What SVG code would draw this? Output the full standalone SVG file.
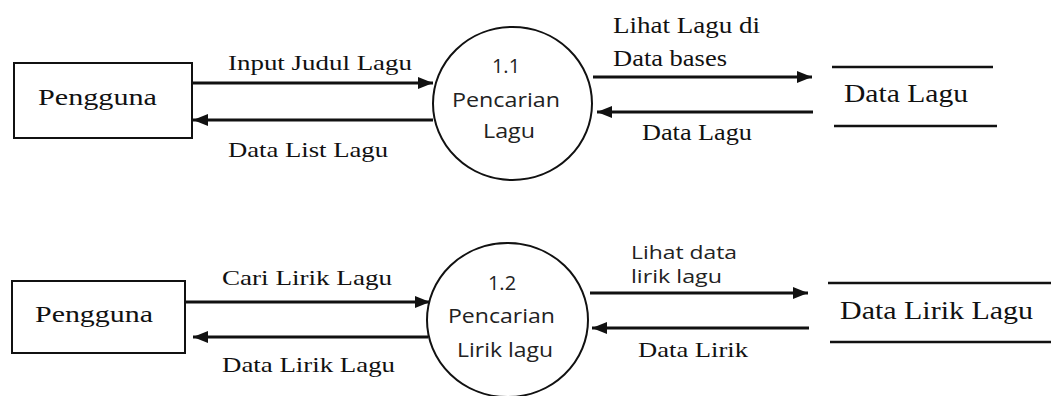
<svg xmlns="http://www.w3.org/2000/svg" width="1051" height="396" viewBox="0 0 1051 396">
<style>
.serif{font-family:"Liberation Serif","Times New Roman",serif;fill:#111}
.sans{font-family:"Open Sans","Noto Sans",sans-serif;fill:#222}
.box{fill:#fff;stroke:#111;stroke-width:2}
.proc{fill:#fff;stroke:#111;stroke-width:2}
.store{stroke:#111;stroke-width:2.5;fill:none}
.flow{stroke:#111;stroke-width:3;fill:none;marker-end:url(#ah)}
</style>
<defs>
<marker id="ah" markerUnits="userSpaceOnUse" markerWidth="16" markerHeight="12" refX="15" refY="6" orient="auto">
<path d="M0,0 L15,6 L0,12 z" fill="#111"/>
</marker>
</defs>
<rect width="1051" height="396" fill="#fff"/>

<g id="connectors">
<path class="flow" d="M192,83 L433,83"/>
<path class="flow" d="M433,120 L193,120"/>
<path class="flow" d="M593,77 L812,77"/>
<path class="flow" d="M813,112 L597,112"/>
<path class="flow" d="M185,302 L430,302"/>
<path class="flow" d="M428,337 L193,337"/>
<path class="flow" d="M590,293 L808,293"/>
<path class="flow" d="M809,328 L592,328"/>
<text class="serif" x="228" y="70" font-size="22" textLength="184" lengthAdjust="spacingAndGlyphs">Input Judul Lagu</text>
<text class="serif" x="228" y="157" font-size="22" textLength="160" lengthAdjust="spacingAndGlyphs">Data List Lagu</text>
<text class="serif" x="613" y="33" font-size="23" textLength="147" lengthAdjust="spacingAndGlyphs">Lihat Lagu di</text>
<text class="serif" x="613" y="66" font-size="23" textLength="114" lengthAdjust="spacingAndGlyphs">Data bases</text>
<text class="serif" x="642" y="140" font-size="23" textLength="110" lengthAdjust="spacingAndGlyphs">Data Lagu</text>
<text class="serif" x="222" y="285" font-size="22" textLength="170" lengthAdjust="spacingAndGlyphs">Cari Lirik Lagu</text>
<text class="serif" x="222" y="372" font-size="22" textLength="173" lengthAdjust="spacingAndGlyphs">Data Lirik Lagu</text>
<text class="sans" x="631" y="259" font-size="18" textLength="106" lengthAdjust="spacingAndGlyphs">Lihat data</text>
<text class="sans" x="631" y="283" font-size="18" textLength="91" lengthAdjust="spacingAndGlyphs">lirik lagu</text>
<text class="serif" x="638" y="357" font-size="22" textLength="110" lengthAdjust="spacingAndGlyphs">Data Lirik</text>
</g>

<g id="pengguna1">
<rect class="box" x="14" y="63" width="178" height="75"/>
<text class="serif" x="38" y="105" font-size="23" textLength="119" lengthAdjust="spacingAndGlyphs">Pengguna</text>
</g>

<g id="proses11">
<ellipse class="proc" cx="512.5" cy="103.5" rx="79.5" ry="76.5"/>
<text class="sans" x="506" y="73" font-size="20" text-anchor="middle">1.1</text>
<text class="sans" x="452" y="107" font-size="20" textLength="108" lengthAdjust="spacingAndGlyphs">Pencarian</text>
<text class="sans" x="483" y="138" font-size="20" textLength="52" lengthAdjust="spacingAndGlyphs">Lagu</text>
</g>

<g id="datalagu">
<line class="store" x1="832" y1="67" x2="993" y2="67"/>
<line class="store" x1="834" y1="126" x2="997" y2="126"/>
<text class="serif" x="844" y="102" font-size="26" textLength="124" lengthAdjust="spacingAndGlyphs">Data Lagu</text>
</g>

<g id="pengguna2">
<rect class="box" x="12" y="281" width="173" height="72"/>
<text class="serif" x="35" y="322" font-size="23" textLength="118" lengthAdjust="spacingAndGlyphs">Pengguna</text>
</g>

<g id="proses12">
<ellipse class="proc" cx="507.5" cy="320" rx="80.5" ry="77"/>
<text class="sans" x="502" y="290" font-size="20" text-anchor="middle">1.2</text>
<text class="sans" x="448" y="323" font-size="20" textLength="107" lengthAdjust="spacingAndGlyphs">Pencarian</text>
<text class="sans" x="457" y="357" font-size="20" textLength="96" lengthAdjust="spacingAndGlyphs">Lirik lagu</text>
</g>

<g id="datalirik">
<line class="store" x1="828" y1="283" x2="1051" y2="283"/>
<line class="store" x1="830" y1="342" x2="1051" y2="342"/>
<text class="serif" x="840" y="319" font-size="26" textLength="193" lengthAdjust="spacingAndGlyphs">Data Lirik Lagu</text>
</g>
</svg>
